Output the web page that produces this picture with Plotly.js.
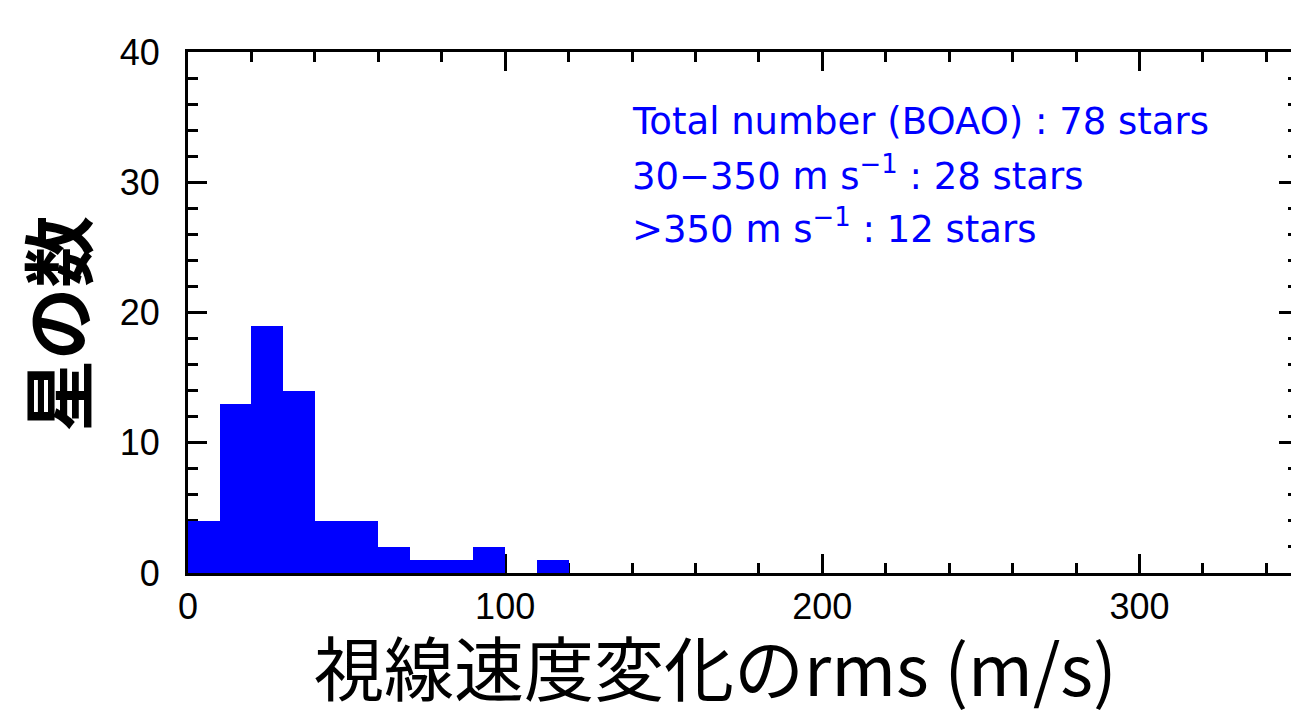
<!DOCTYPE html>
<html>
<head>
<meta charset="utf-8">
<script src="https://cdn.plot.ly/plotly-3.0.1.min.js"></script>
<style>
  html, body { margin: 0; padding: 0; overflow: hidden; background: #fff; }
  #chart { width: 1300px; height: 710px; }
</style>
</head>
<body>
<div id="chart"></div>
<script>
// Histogram of RMS radial-velocity scatter, 10 m/s bins
const binStart = [0, 10, 20, 30, 40, 50, 60, 70, 80, 90, 100, 110];
const binWidth = [10, 10, 10, 10, 10, 10, 10, 10, 10, 10, 10, 10];
const starCounts = [4, 13, 19, 14, 4, 4, 2, 1, 1, 2, 0, 1];

const xTickVals = [0, 100, 200, 300];
const yTickVals = [0, 10, 20, 30, 40];

const summaryLines = [
  'Total number (BOAO) : 78 stars',
  '30−350 m s<sup>−1</sup> : 28 stars',
  '>350 m s<sup>−1</sup> : 12 stars'
];

const xTitle = '視線速度変化のrms (m/s)';
const yTitle = '星の数';

const trace = {
  type: 'bar',
  x: binStart,
  y: starCounts,
  width: binWidth,
  offset: 0,
  marker: { color: '#0000ff', line: { width: 0 } },
  hoverinfo: 'x+y'
};

const tickFont = { family: 'Liberation Sans, Arial, sans-serif', size: 36, color: '#000' };

const axisCommon = {
  showline: true,
  linecolor: '#000',
  linewidth: 3,
  mirror: 'ticks',
  ticks: 'inside',
  tickcolor: '#000',
  tickwidth: 3,
  ticklen: 19,
  showgrid: false,
  zeroline: false,
  tickfont: tickFont,
  layer: 'below traces'
};

const annotations = summaryLines.map((t, i) => ({
  xref: 'paper', yref: 'paper',
  x: 0.398, y: 0.866 - i * 0.1,
  xanchor: 'left', yanchor: 'middle',
  text: t, showarrow: false, align: 'left',
  font: { family: 'DejaVu Sans, sans-serif', size: 37, color: '#0000ff' }
}));

annotations.push({
  xref: 'paper', yref: 'paper',
  x: 0.475, y: -0.177,
  xanchor: 'center', yanchor: 'middle',
  text: xTitle, showarrow: false,
  font: { family: 'Noto Sans CJK JP, sans-serif', size: 70, color: '#000' }
});
annotations.push({
  xref: 'paper', yref: 'paper',
  x: -0.12, y: 0.478,
  xanchor: 'center', yanchor: 'middle',
  textangle: -90,
  text: '<b>' + yTitle + '</b>', showarrow: false,
  font: { family: 'Noto Sans CJK JP, sans-serif', size: 72, color: '#000' }
});

const layout = {
  width: 1300,
  height: 710,
  margin: { l: 188, r: 2, t: 52, b: 137 },
  paper_bgcolor: '#fff',
  plot_bgcolor: '#fff',
  showlegend: false,
  bargap: 0,
  xaxis: Object.assign({}, axisCommon, {
    range: [0, 350],
    tickvals: xTickVals,
    ticklabelstandoff: 0,
    minor: { dtick: 20, ticks: 'inside', ticklen: 10, tickwidth: 3, tickcolor: '#000' }
  }),
  yaxis: Object.assign({}, axisCommon, {
    range: [0, 40],
    tickvals: yTickVals,
    ticklabelstandoff: 18,
    minor: { dtick: 2, ticks: 'inside', ticklen: 10, tickwidth: 3, tickcolor: '#000' }
  }),
  annotations: annotations
};

Plotly.newPlot('chart', [trace], layout, { displayModeBar: false, staticPlot: true });
</script>
</body>
</html>
